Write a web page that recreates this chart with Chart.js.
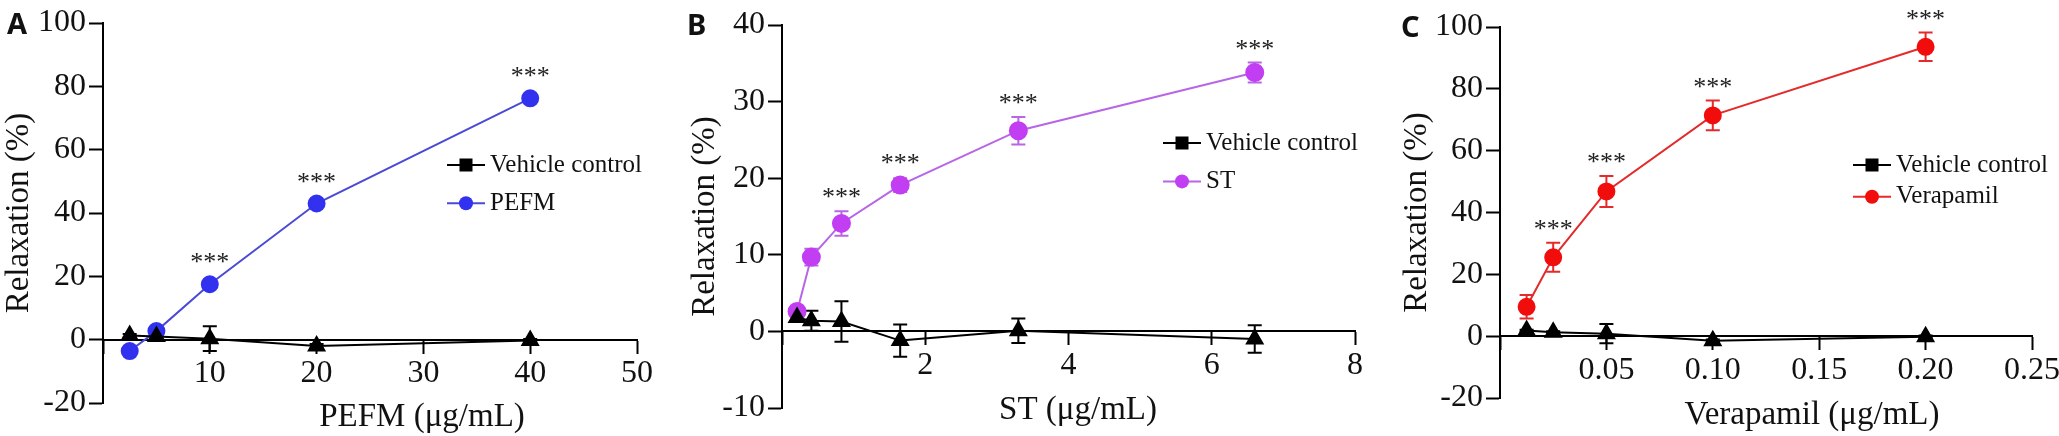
<!DOCTYPE html>
<html>
<head>
<meta charset="utf-8">
<script src="https://cdn.jsdelivr.net/npm/chart.js@4.4.1/dist/chart.umd.min.js"></script>
<style>
html, body { margin: 0; padding: 0; background: #fff; }
#wrap { position: relative; width: 2059px; height: 436px; }
canvas { position: absolute; top: 0; }
</style>
</head>
<body>
<div id="wrap">
  <canvas id="panelA" width="686" height="436" style="left:0px"></canvas>
  <canvas id="panelB" width="686" height="436" style="left:686px"></canvas>
  <canvas id="panelC" width="687" height="436" style="left:1372px"></canvas>
</div>
<script>
// A - PEFM
const pefmDose = [2.5, 5, 10, 20, 40];
const pefmMean = [-3.6, 2.7, 17.5, 43.0, 76.2];
const pefmErr = [0.8, 0.8, 0.8, 0.8, 0.8];
const pefmSig = ['', '', '***', '***', '***'];
const vehAMean = [1.3, 1.0, 0.3, -2.0, -0.3];
const vehAErr = [0.5, 0.5, 3.9, 0.6, 0.5];
const ticksA = { min: -20, max: 100, step: 20, xMax: 50, xStep: 10 };

// B - ST
const stDose = [0.21, 0.41, 0.83, 1.65, 3.3, 6.6];
const stMean = [2.6, 9.7, 14.1, 19.1, 26.2, 33.8];
const stErr = [0.4, 1.1, 1.6, 0.9, 1.8, 1.3];
const stSig = ['', '', '***', '***', '***', '***'];
const vehBMean = [1.8, 1.4, 1.3, -1.2, 0.1, -1.0];
const vehBErr = [0.3, 1.3, 2.65, 2.1, 1.6, 1.8];
const ticksB = { min: -10, max: 40, step: 10, xMax: 8, xStep: 2 };

// C - Verapamil
const verDose = [0.0125, 0.025, 0.05, 0.1, 0.2];
const verMean = [9.5, 25.5, 46.8, 71.4, 93.6];
const verErr = [3.8, 4.7, 5.0, 4.8, 4.6];
const verSig = ['', '***', '***', '***', '***'];
const vehCMean = [1.8, 1.3, 0.8, -1.5, -0.2];
const vehCErr = [0.3, 0.3, 3.1, 0.4, 0.4];
const ticksC = { min: -20, max: 100, step: 20, xMax: 0.25, xStep: 0.05 };

Chart.defaults.font.family = '"Liberation Serif", "Times New Roman", serif';
Chart.defaults.color = '#111';

const toPoints = (xs, ys) => xs.map((x, i) => ({ x: x, y: ys[i] }));

const errorBars = {
  id: 'errorBars',
  beforeDatasetsDraw(chart) {
    const { ctx, scales: { x, y } } = chart;
    chart.data.datasets.forEach(ds => {
      if (!ds.errors) return;
      ctx.save();
      ctx.strokeStyle = ds.borderColor;
      ctx.lineWidth = 2;
      ds.data.forEach((p, j) => {
        const e = ds.errors[j];
        const px = x.getPixelForValue(p.x);
        const top = y.getPixelForValue(p.y + e);
        const bot = y.getPixelForValue(p.y - e);
        const cap = 7;
        ctx.beginPath();
        ctx.moveTo(px, top); ctx.lineTo(px, bot);
        ctx.moveTo(px - cap, top); ctx.lineTo(px + cap, top);
        ctx.moveTo(px - cap, bot); ctx.lineTo(px + cap, bot);
        ctx.stroke();
      });
      ctx.restore();
    });
  }
};

const sigStars = {
  id: 'sigStars',
  afterDatasetsDraw(chart) {
    const { ctx, scales: { x, y } } = chart;
    chart.data.datasets.forEach(ds => {
      if (!ds.stars) return;
      ctx.save();
      ctx.font = '26px "Liberation Serif", serif';
      ctx.fillStyle = '#222';
      ctx.textAlign = 'center';
      ctx.textBaseline = 'alphabetic';
      ds.data.forEach((p, j) => {
        if (!ds.stars[j]) return;
        const px = x.getPixelForValue(p.x);
        const topBar = y.getPixelForValue(p.y + (ds.errors ? ds.errors[j] : 0));
        const topDot = y.getPixelForValue(p.y) - ds.pointRadius;
        const cy = Math.min(topBar, topDot) - 20;
        ctx.fillText(ds.stars[j], px, cy + 14);
      });
      ctx.restore();
    });
  }
};

const lineLegend = {
  id: 'lineLegend',
  afterDraw(chart, args, opts) {
    const ctx = chart.ctx;
    chart.data.datasets.forEach((ds, i) => {
      const y = opts.y + i * opts.gap;
      const x0 = opts.x, x1 = opts.x + 38, xm = (x0 + x1) / 2;
      ctx.save();
      ctx.strokeStyle = ds.borderColor;
      ctx.lineWidth = 2;
      ctx.beginPath(); ctx.moveTo(x0, y); ctx.lineTo(x1, y); ctx.stroke();
      ctx.fillStyle = ds.pointBackgroundColor || ds.backgroundColor;
      if (ds.marker === 'rect') {
        ctx.fillRect(xm - 6.5, y - 6.5, 13, 13);
      } else {
        ctx.beginPath(); ctx.arc(xm, y, 7, 0, Math.PI * 2); ctx.fill();
      }
      ctx.fillStyle = '#111';
      ctx.font = '25px "Liberation Serif", serif';
      ctx.textBaseline = 'middle';
      ctx.textAlign = 'left';
      ctx.fillText(ds.label, x0 + 43, y);
      ctx.restore();
    });
  }
};

const panelDecor = {
  id: 'panelDecor',
  afterDraw(chart, args, opts) {
    const ctx = chart.ctx;
    ctx.save();
    ctx.fillStyle = '#111';
    ctx.font = 'bold 29px "Noto Sans", "Open Sans", sans-serif';
    ctx.textBaseline = 'alphabetic';
    ctx.textAlign = 'left';
    ctx.fillText(opts.tag, opts.tagX, opts.tagY);
    ctx.font = '33px "Liberation Serif", serif';
    ctx.textAlign = 'center';
    ctx.textBaseline = 'middle';
    ctx.fillText(opts.xTitle, opts.xTitleX, opts.xTitleY);
    ctx.restore();
  }
};

function makePanel(id, p) {
  const axisStyle = {
    grid: { drawOnChartArea: false, drawTicks: true, tickLength: 14, tickWidth: 2, tickColor: '#000' },
    border: { display: true, color: '#000', width: 2 }
  };
  new Chart(document.getElementById(id), {
    type: 'line',
    data: {
      datasets: [
        {
          label: 'Vehicle control',
          data: toPoints(p.dose, p.vehMean),
          errors: p.vehErr,
          borderColor: '#000',
          backgroundColor: '#000',
          pointBackgroundColor: '#000',
          pointBorderColor: '#000',
          pointStyle: 'triangle',
          pointRadius: 9,
          borderWidth: 2,
          marker: 'rect'
        },
        {
          label: p.name,
          data: toPoints(p.dose, p.mean),
          errors: p.err,
          stars: p.sig,
          borderColor: p.line,
          backgroundColor: p.dot,
          pointBackgroundColor: p.dot,
          pointBorderColor: p.dot,
          pointRadius: p.r,
          borderWidth: 2,
          marker: 'circle'
        }
      ]
    },
    options: {
      responsive: false,
      animation: false,
      events: [],
      clip: false,
      elements: { line: { tension: 0, fill: false } },
      layout: { padding: p.pad },
      scales: {
        x: {
          type: 'linear',
          min: 0,
          max: p.ticks.xMax,
          position: { y: 0 },
          ticks: {
            stepSize: p.ticks.xStep,
            autoSkip: false,
            maxRotation: 0,
            padding: 2,
            font: { size: 32 },
            color: '#111',
            callback: v => (Math.abs(v) < 1e-9 ? '' : p.fmt(v))
          },
          grid: { drawOnChartArea: false, tickLength: 13, tickWidth: 2, tickColor: '#000' },
          border: axisStyle.border,
          afterFit(s) { s.paddingLeft = 0; s.paddingRight = 0; }
        },
        y: {
          type: 'linear',
          position: 'left',
          min: p.ticks.min,
          max: p.ticks.max,
          ticks: { stepSize: p.ticks.step, padding: 3, font: { size: 32 }, color: '#111' },
          grid: axisStyle.grid,
          border: axisStyle.border,
          title: {
            display: true,
            text: 'Relaxation (%)',
            font: { size: 33 },
            color: '#111',
            padding: { top: p.yTitlePad, bottom: 0 }
          },
          afterFit(s) { s.width = p.axisW; }
        }
      },
      plugins: {
        legend: { display: false },
        tooltip: { enabled: false },
        lineLegend: p.legend,
        panelDecor: p.decor
      }
    },
    plugins: [errorBars, sigStars, lineLegend, panelDecor]
  });
}

makePanel('panelA', {
  dose: pefmDose, mean: pefmMean, err: pefmErr, sig: pefmSig,
  vehMean: vehAMean, vehErr: vehAErr, ticks: ticksA, name: 'PEFM',
  dot: '#3131ef', line: '#4a4ad6', r: 8,
  fmt: v => String(Math.round(v)),
  axisW: 103, yTitlePad: 0,
  pad: { left: 0, top: 23, right: 49, bottom: 33 },
  legend: { x: 447, y: 165, gap: 38.3 },
  decor: { tag: 'A', tagX: 7, tagY: 34, xTitle: 'PEFM (μg/mL)', xTitleX: 422, xTitleY: 417 }
});

makePanel('panelB', {
  dose: stDose, mean: stMean, err: stErr, sig: stSig,
  vehMean: vehBMean, vehErr: vehBErr, ticks: ticksB, name: 'ST',
  dot: '#c23ef2', line: '#b865e6', r: 8.5,
  fmt: v => String(Math.round(v)),
  axisW: 96, yTitlePad: 0,
  pad: { left: 0, top: 25, right: 17, bottom: 28 },
  legend: { x: 477, y: 143, gap: 38.4 },
  decor: { tag: 'B', tagX: 1, tagY: 35, xTitle: 'ST (μg/mL)', xTitleX: 392, xTitleY: 410 }
});

makePanel('panelC', {
  dose: verDose, mean: verMean, err: verErr, sig: verSig,
  vehMean: vehCMean, vehErr: vehCErr, ticks: ticksC, name: 'Verapamil',
  dot: '#f20d0d', line: '#e42a2a', r: 8,
  fmt: v => v.toFixed(2),
  axisW: 128, yTitlePad: 26,
  pad: { left: 0, top: 27, right: 27, bottom: 38 },
  legend: { x: 481, y: 165, gap: 31.7 },
  decor: { tag: 'C', tagX: 29, tagY: 37, xTitle: 'Verapamil (μg/mL)', xTitleX: 440, xTitleY: 415 }
});
</script>
</body>
</html>
